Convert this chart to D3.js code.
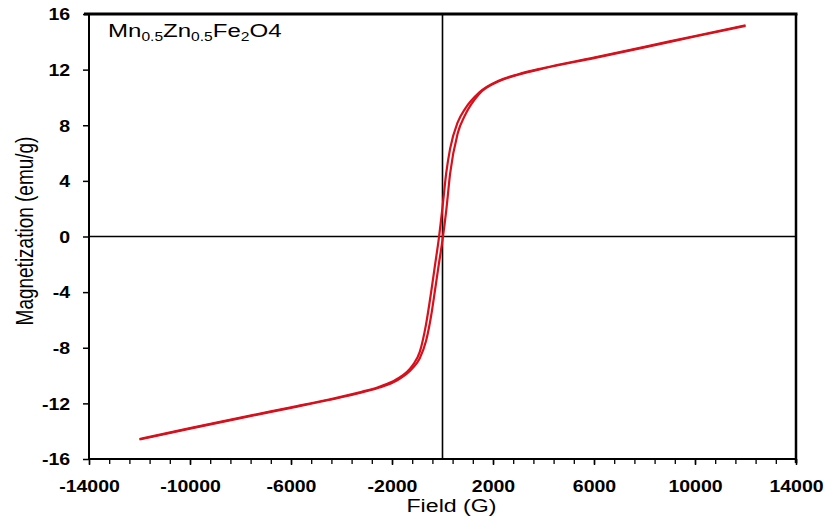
<!DOCTYPE html>
<html>
<head>
<meta charset="utf-8">
<script src="https://cdn.jsdelivr.net/npm/d3@7"></script>
<style>
  html, body { margin: 0; padding: 0; background: #fff; }
  svg { display: block; }
  text { font-family: "Liberation Sans", Arial, sans-serif; fill: #000; }
</style>
</head>
<body>
<svg id="chart" width="826" height="521"></svg>
<script>
// ---- data ----
const fieldGrid = [-12000, -10000, -8000, -6000, -4500, -3200, -2500, -1850, -1200, -900, -650, -450, -300, -150, 0, 150, 300, 600, 900, 1450, 2250, 3000, 4000, 6000, 8000, 10000, 12000];
// descending branch (from +12000 G to -12000 G), upper/left branch
const magDescending = [-14.56, -13.78, -13.02, -12.28, -11.72, -11.17, -10.8, -10.3, -9.3, -8.3, -6.3, -4.0, -2.1, -0.2, 2.1, 4.6, 6.3, 8.2, 9.2, 10.35, 11.22, 11.67, 12.12, 12.87, 13.64, 14.42, 15.19];
// ascending branch (from -12000 G to +12000 G), lower/right branch
const magAscending = [-14.6, -13.82, -13.06, -12.32, -11.76, -11.22, -10.86, -10.4, -9.5, -8.75, -7.5, -5.7, -3.9, -2.05, -0.25, 1.9, 4.5, 7.4, 8.75, 10.25, 11.18, 11.63, 12.08, 12.83, 13.6, 14.38, 15.15];
const xTickValues = [-14000, -10000, -6000, -2000, 2000, 6000, 10000, 14000];
const yTickValues = [-16, -12, -8, -4, 0, 4, 8, 12, 16];
const xDomain = [-14000, 14000];
const yDomain = [-16, 16];
const xLabel = "Field (G)";
const yLabel = "Magnetization (emu/g)";

// ---- layout ----
const svg = d3.select("#chart");
const L = 89, R = 796, T = 14, B = 459;
const x = d3.scaleLinear().domain(xDomain).range([L, R]);
const y = d3.scaleLinear().domain(yDomain).range([B, T]);

// minor x ticks every 800 G
const minorX = d3.range(xDomain[0], xDomain[1] + 1, 800);
svg.append("g")
  .attr("transform", `translate(0,${B})`)
  .call(d3.axisBottom(x).tickValues(minorX).tickSize(5).tickFormat(""))
  .call(g => g.select(".domain").remove())
  .call(g => g.selectAll("line").attr("stroke", "#000").attr("stroke-width", 1.3));

// major x axis
const gx = svg.append("g")
  .attr("transform", `translate(0,${B})`)
  .call(d3.axisBottom(x).tickValues(xTickValues).tickSize(6).tickPadding(15).tickFormat(d3.format("d")));
gx.select(".domain").remove();
gx.selectAll("line").attr("stroke", "#000").attr("stroke-width", 1.5);
gx.selectAll("text")
  .attr("font-size", 16).attr("font-weight", "bold")
  .attr("dy", "0.72em")
  .attr("transform", "scale(1.22,1)")
  .text(d => d < 0 ? "-" + Math.abs(d) : String(d));

// y axis
const gy = svg.append("g")
  .attr("transform", `translate(${L},0)`)
  .call(d3.axisLeft(y).tickValues(yTickValues).tickSize(6).tickPadding(0).tickFormat(d3.format("d")));
gy.select(".domain").remove();
gy.selectAll("line").attr("stroke", "#000").attr("stroke-width", 1.5);
gy.selectAll("text")
  .attr("font-size", 16).attr("font-weight", "bold")
  .attr("x", -15.5).attr("dy", "0.36em")
  .attr("transform", "scale(1.22,1)")
  .text(d => d < 0 ? "-" + Math.abs(d) : String(d));

// frame
svg.append("line").attr("x1", L).attr("x2", L).attr("y1", T - 1).attr("y2", B + 1)
  .attr("stroke", "#000").attr("stroke-width", 2);
svg.append("line").attr("x1", L - 1).attr("x2", R + 1).attr("y1", B).attr("y2", B)
  .attr("stroke", "#000").attr("stroke-width", 2);
svg.append("line").attr("x1", L - 5).attr("x2", R + 1.5).attr("y1", T).attr("y2", T)
  .attr("stroke", "#000").attr("stroke-width", 3);
svg.append("line").attr("x1", R).attr("x2", R).attr("y1", T).attr("y2", B + 4)
  .attr("stroke", "#000").attr("stroke-width", 2.5);

// zero lines
svg.append("line").attr("x1", x(0)).attr("x2", x(0)).attr("y1", T).attr("y2", B)
  .attr("stroke", "#000").attr("stroke-width", 1.6);
svg.append("line").attr("x1", L).attr("x2", R).attr("y1", y(0)).attr("y2", y(0))
  .attr("stroke", "#000").attr("stroke-width", 1.6);

// curves
const line = d3.line().x(d => x(d[0])).y(d => y(d[1])).curve(d3.curveMonotoneX);
const desc = fieldGrid.map((f, i) => [f, magDescending[i]]);
const asc = fieldGrid.map((f, i) => [f, magAscending[i]]);
[desc, asc].forEach(data => {
  svg.append("path").datum(data).attr("d", line)
    .attr("fill", "none").attr("stroke", "#d8101c").attr("stroke-width", 2.2)
    .attr("stroke-linejoin", "round");
});

// title with subscripts
const title = svg.append("text")
  .attr("transform", "translate(108,37) scale(1.3,1)")
  .attr("font-size", 18.5);
const parts = [["Mn", false], ["0.5", true], ["Zn", false], ["0.5", true], ["Fe", false], ["2", true], ["O4", false]];
parts.forEach(([t, sub]) => {
  title.append("tspan")
    .attr("font-size", sub ? 12 : 18.5)
    .attr("dy", sub ? 4 : (t === "Mn" ? 0 : -4))
    .text(t);
});

// axis titles
svg.append("text")
  .attr("transform", `translate(${x(0) + 9},512) scale(1.22,1)`)
  .attr("text-anchor", "middle").attr("font-size", 19)
  .text(xLabel);
svg.append("text")
  .attr("transform", "translate(25,231) scale(1.3,1) rotate(-90)")
  .attr("text-anchor", "middle").attr("dominant-baseline", "central")
  .attr("font-size", 19)
  .text(yLabel);
</script>
</body>
</html>
